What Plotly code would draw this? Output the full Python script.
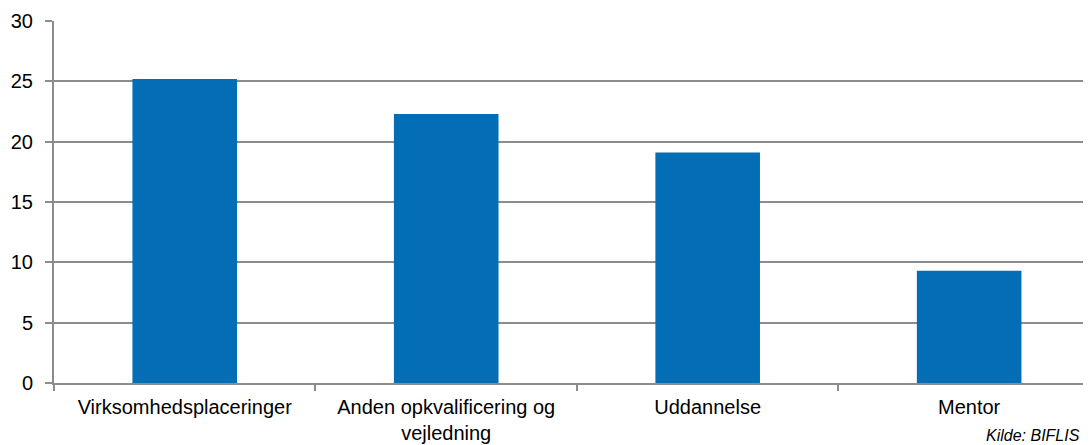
import plotly.graph_objects as go

categories = ["Virksomhedsplaceringer", "Anden opkvalificering og<br>vejledning", "Uddannelse", "Mentor"]
values = [25.2, 22.3, 19.1, 9.3]
y_ticks = [0, 5, 10, 15, 20, 25, 30]
source_text = "Kilde: BIFLIS"

fig = go.Figure()
fig.add_trace(go.Bar(x=categories, y=values, marker=dict(color="#036db5", line=dict(width=0)),
                     hoverinfo="skip"))

font_family = "Liberation Sans, Arial, sans-serif"
axis_grey = "#8c8c8c"

fig.update_layout(
    width=1083, height=437,
    margin=dict(l=46, r=0, t=13, b=62),
    paper_bgcolor="white", plot_bgcolor="white",
    bargap=0.6,
    showlegend=False,
    font=dict(family=font_family, size=20, color="#000000"),
    xaxis=dict(
        type="category",
        range=[-0.5, 3.466],
        automargin=False,
        showline=True, linecolor=axis_grey, linewidth=2,
        ticks="outside", tickson="boundaries", ticklen=6, tickcolor=axis_grey, tickwidth=2,
        showgrid=False,
        tickfont=dict(size=20, family=font_family, color="#000"),
        ticklabelstandoff=5,
    ),
    yaxis=dict(
        range=[0, 30],
        tickvals=y_ticks,
        automargin=False,
        showline=True, linecolor=axis_grey, linewidth=2,
        ticks="outside", ticklen=7, tickcolor=axis_grey, tickwidth=2,
        showgrid=True, gridcolor=axis_grey, gridwidth=2,
        zeroline=False,
        tickfont=dict(size=20, family=font_family, color="#000"),
        ticklabelstandoff=8,
    ),
    annotations=[dict(
        text="<i>" + source_text + "</i>", xref="paper", yref="paper", x=1, y=0,
        xanchor="right", yanchor="bottom", xshift=-9, yshift=-63,
        showarrow=False, font=dict(size=16, family=font_family, color="#000"),
    )],
)

fig.write_html("out.html")
